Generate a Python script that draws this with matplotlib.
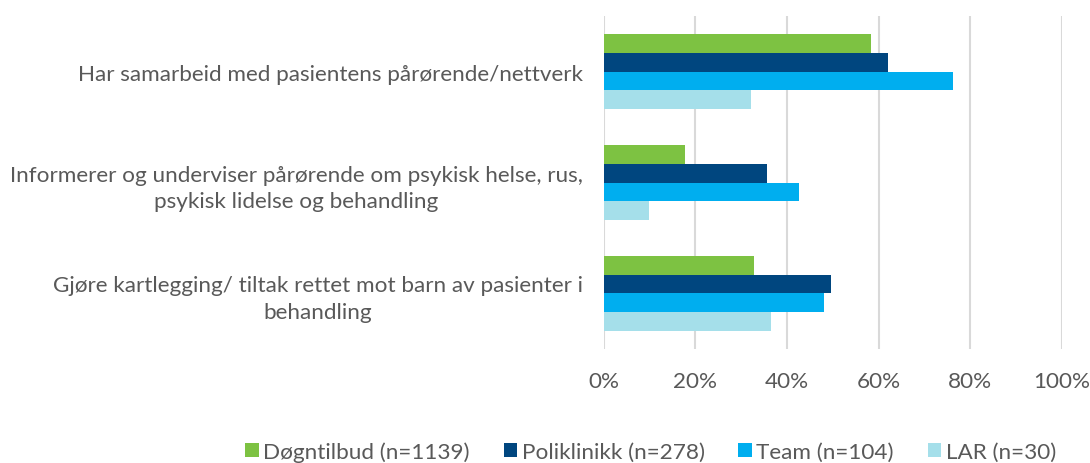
import numpy as np
import matplotlib.pyplot as plt
from matplotlib.ticker import PercentFormatter

categories = [
    "Har samarbeid med pasientens pårørende/nettverk",
    "Informerer og underviser pårørende om psykisk helse, rus,\npsykisk lidelse og behandling",
    "Gjøre kartlegging/ tiltak rettet mot barn av pasienter i\nbehandling",
]
series = ["Døgntilbud (n=1139)", "Poliklinikk (n=278)", "Team (n=104)", "LAR (n=30)"]
dogn = [58.4, 17.8, 32.9]
poli = [62.1, 35.7, 49.7]
team = [76.3, 42.6, 48.0]
lar = [32.2, 9.8, 36.5]
colors = ["#7dc242", "#00467f", "#00aeef", "#a5dfea"]

plt.rcParams["font.family"] = ["Lato", "DejaVu Sans"]
text_color = "#595959"
fsize = 16.2

fig = plt.figure(figsize=(10.9, 4.64), dpi=100)
ax = fig.add_axes([0.554, 0.246, 0.42, 0.717])

y = np.arange(len(categories))
bar_h = 0.17
values = [dogn, poli, team, lar]
for i, (vals, name, col) in enumerate(zip(values, series, colors)):
    offset = (i - 1.5) * bar_h
    ax.barh(y + offset, vals, height=bar_h, color=col, label=name, zorder=3)

ax.set_xlim(0, 100)
ax.set_ylim(2.5, -0.5)
ax.set_xticks(np.arange(0, 101, 20))
ax.xaxis.set_major_formatter(PercentFormatter(decimals=0))
ax.set_yticks(y)
ax.set_yticklabels(categories, multialignment="center", linespacing=1.42)
ax.grid(axis="x", color="#d9d9d9", linewidth=1.5, zorder=0)
for s in ax.spines.values():
    s.set_visible(False)
ax.tick_params(axis="both", length=0, colors=text_color, labelsize=fsize)
ax.tick_params(axis="y", pad=15)
ax.tick_params(axis="x", pad=16)

ax.legend(loc="center", bbox_to_anchor=(0.597, 0.024), bbox_transform=fig.transFigure,
          ncol=4, frameon=False, fontsize=fsize, labelcolor=text_color,
          handlelength=0.6, handleheight=0.6, handletextpad=0.2, columnspacing=1.5)

fig.savefig("out.png", dpi=100)
